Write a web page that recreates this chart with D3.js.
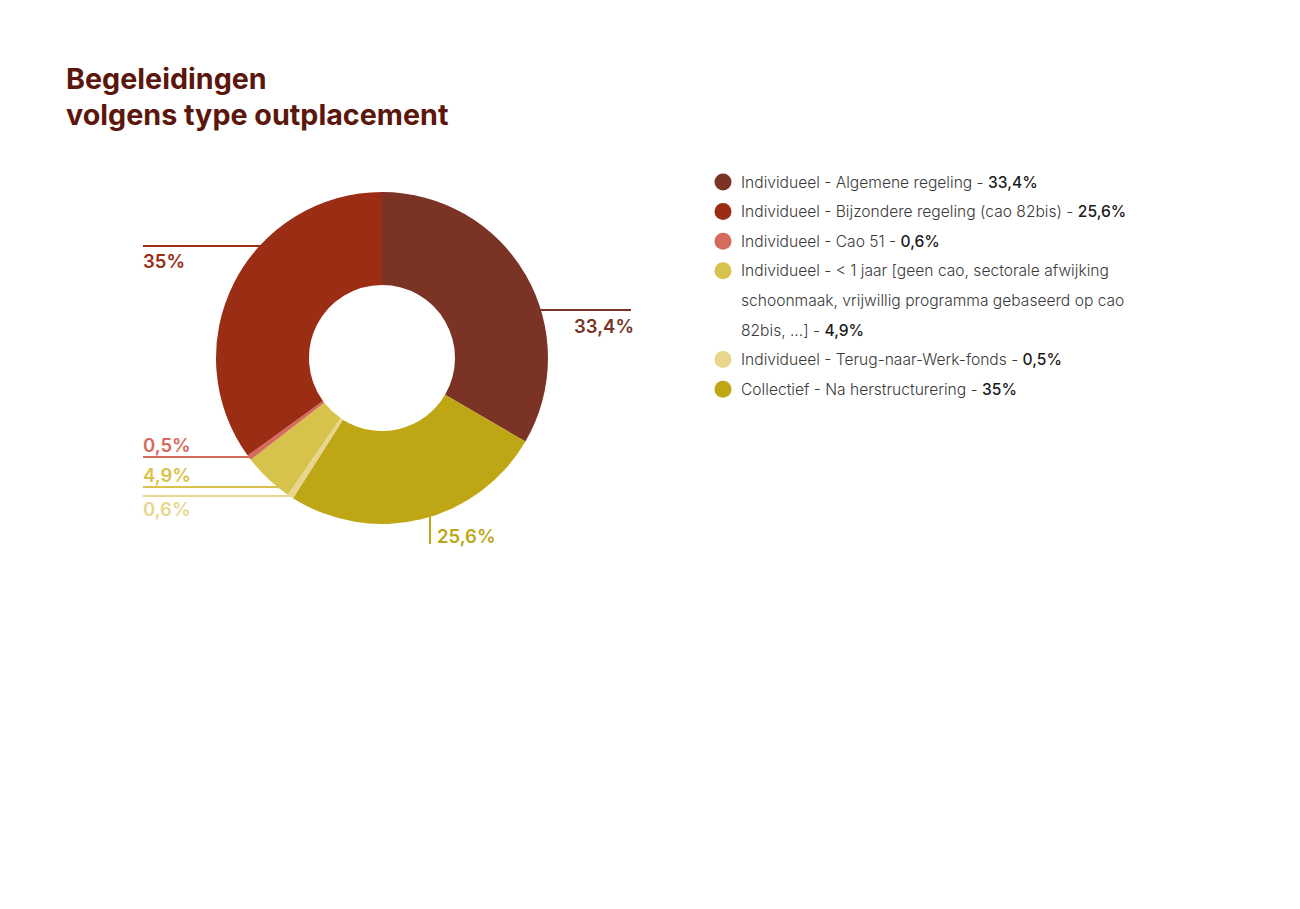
<!DOCTYPE html>
<html lang="nl">
  <head>
    <meta charset="UTF-8" />
    <title>Begeleidingen volgens type outplacement</title>
    <style type="text/css">
      body {
        margin: 0;
        background: #ffffff;
      }
      svg {
        font-family: Inter, 'Noto Sans', sans-serif;
      }
    </style>
    <script src="https://d3js.org/d3.v7.min.js"></script>
  </head>
  <body>
    <div class="d3Chart"></div>
    <script type="text/javascript">
      // slices as drawn, clockwise from 12 o'clock
      const sliceKeys = ['algemeen', 'collectief', 'terug', 'kortjaar', 'cao51', 'bijzonder']
      const sliceValues = [33.4, 25.6, 0.6, 4.9, 0.5, 35]
      const sliceLabels = ['33,4%', '25,6%', '0,6%', '4,9%', '0,5%', '35%']

      // legend
      const legendKeys = ['algemeen', 'bijzonder', 'cao51', 'kortjaar', 'terug', 'collectief']
      const legendLabels = [
        ['Individueel - Algemene regeling - '],
        ['Individueel - Bijzondere regeling (cao 82bis) - '],
        ['Individueel - Cao 51 - '],
        [
          'Individueel - < 1 jaar [geen cao, sectorale afwijking',
          'schoonmaak, vrijwillig programma gebaseerd op cao',
          '82bis, ...] - '
        ],
        ['Individueel - Terug-naar-Werk-fonds - '],
        ['Collectief - Na herstructurering - ']
      ]
      const legendValues = ['33,4%', '25,6%', '0,6%', '4,9%', '0,5%', '35%']

      const colors = {
        algemeen: '#7a3325',
        bijzonder: '#9a2d14',
        cao51: '#d46b5c',
        kortjaar: '#d7c24b',
        terug: '#e7d68c',
        collectief: '#bea614'
      }

      // canvas
      const width = 1300
      const height = 909
      const svg = d3.select('.d3Chart').append('svg').attr('width', width).attr('height', height)

      // title
      const title = svg
        .append('text')
        .attr('x', 66)
        .attr('fill', '#5c170c')
        .style('font-size', '28.7px')
        .style('font-weight', 700)
      title.append('tspan').attr('x', 66).attr('y', 89).text('Begeleidingen')
      title.append('tspan').attr('x', 66).attr('y', 125).text('volgens type outplacement')

      // donut
      const cx = 382
      const cy = 358
      const outerR = 166
      const innerR = 73
      const chart = svg.append('g').attr('transform', `translate(${cx}, ${cy})`)

      const pie = d3.pie().sort(null).value((d) => d.value)
      const arcs = pie(sliceKeys.map((k, i) => ({ key: k, value: sliceValues[i], label: sliceLabels[i] })))
      const arc = d3.arc().innerRadius(innerR).outerRadius(outerR)

      chart
        .append('g')
        .selectAll('path')
        .data(arcs)
        .join('path')
        .attr('d', arc)
        .attr('fill', (d) => colors[d.data.key])

      // label leaders: side, leader offset from centre, text anchor
      const leaders = {
        algemeen: { side: 'right', off: -48, end: 249, dy: 23 },
        collectief: { side: 'bottom', off: 48, end: 186, dy: 0 },
        terug: { side: 'left', off: 138, end: -239, dy: 20 },
        kortjaar: { side: 'left', off: 129, end: -239, dy: -5 },
        cao51: { side: 'left', off: 99, end: -239, dy: -5 },
        bijzonder: { side: 'left', off: -112, end: -239, dy: 22 }
      }

      const labels = chart.append('g').style('font-size', '18.5px').style('font-weight', 600)

      arcs.forEach((d) => {
        const l = leaders[d.data.key]
        const c = colors[d.data.key]
        const reach = Math.sqrt(outerR * outerR - l.off * l.off)
        if (l.side === 'bottom') {
          labels
            .append('line')
            .attr('x1', l.off)
            .attr('x2', l.off)
            .attr('y1', reach - 1)
            .attr('y2', l.end)
            .attr('stroke', c)
            .attr('stroke-width', 2)
          labels
            .append('text')
            .attr('x', l.off + 7)
            .attr('y', l.end - 1)
            .attr('fill', c)
            .text(d.data.label)
        } else {
          const sx = l.side === 'right' ? reach - 1 : -reach + 1
          labels
            .append('line')
            .attr('x1', sx)
            .attr('x2', l.end)
            .attr('y1', l.off)
            .attr('y2', l.off)
            .attr('stroke', c)
            .attr('stroke-width', 2)
          labels
            .append('text')
            .attr('x', l.side === 'right' ? l.end + 3 : l.end)
            .attr('y', l.off + l.dy)
            .attr('text-anchor', l.side === 'right' ? 'end' : 'start')
            .attr('fill', c)
            .text(d.data.label)
        }
      })

      // legend
      const legend = svg.append('g').attr('transform', 'translate(723, 182)')
      const lineH = 29.6
      let row = 0
      legendKeys.forEach((k, i) => {
        const y = row * lineH
        legend.append('circle').attr('cx', 0).attr('cy', y).attr('r', 8.5).attr('fill', colors[k])
        const lines = legendLabels[i]
        lines.forEach((t, j) => {
          const txt = legend
            .append('text')
            .attr('x', 18)
            .attr('y', y + j * lineH + 5.5)
            .style('font-size', '15.6px')
            .style('font-weight', 300)
            .attr('fill', '#3a3a3a')
            .text(t)
          if (j === lines.length - 1) {
            txt.append('tspan').style('font-weight', 500).attr('fill', '#1a1a1a').text(legendValues[i])
          }
        })
        row += lines.length
      })
    </script>
  </body>
</html>
